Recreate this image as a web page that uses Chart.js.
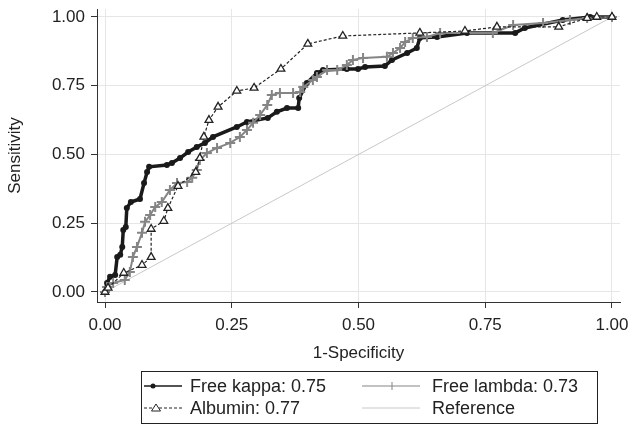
<!DOCTYPE html>
<html>
<head>
<meta charset="utf-8">
<script src="https://cdn.jsdelivr.net/npm/chart.js@4.4.1/dist/chart.umd.min.js"></script>
<style>
  body { margin: 0; background: #fff; }
  canvas { display: block; }
</style>
</head>
<body>
<canvas id="rocChart" width="631" height="433"></canvas>
<script>
// ROC curves (1-specificity, sensitivity)
const kappaX = [0, 0.004, 0.010, 0.020, 0.024, 0.030, 0.034, 0.036, 0.041, 0.043, 0.051, 0.069, 0.077, 0.083, 0.087, 0.122, 0.132, 0.148, 0.164, 0.181, 0.197, 0.213, 0.260, 0.280, 0.321, 0.339, 0.359, 0.381, 0.383, 0.398, 0.418, 0.430, 0.477, 0.499, 0.513, 0.552, 0.566, 0.596, 0.615, 0.621, 0.655, 0.714, 0.809, 0.828, 0.903, 0.957, 1];
const kappaY = [0, 0.033, 0.055, 0.062, 0.127, 0.135, 0.164, 0.225, 0.236, 0.305, 0.327, 0.338, 0.396, 0.436, 0.455, 0.462, 0.469, 0.487, 0.509, 0.527, 0.542, 0.564, 0.600, 0.618, 0.633, 0.655, 0.669, 0.669, 0.705, 0.760, 0.796, 0.807, 0.811, 0.811, 0.818, 0.822, 0.844, 0.869, 0.887, 0.924, 0.927, 0.942, 0.942, 0.960, 0.989, 1, 1];

const lambdaX = [0, 0.004, 0.016, 0.039, 0.049, 0.055, 0.063, 0.073, 0.079, 0.089, 0.099, 0.112, 0.128, 0.142, 0.162, 0.172, 0.181, 0.187, 0.201, 0.221, 0.247, 0.266, 0.280, 0.292, 0.306, 0.320, 0.329, 0.345, 0.371, 0.385, 0.391, 0.410, 0.418, 0.438, 0.458, 0.477, 0.489, 0.509, 0.556, 0.568, 0.582, 0.592, 0.607, 0.635, 0.661, 0.765, 0.805, 0.864, 0.917, 0.951, 1];
const lambdaY = [0, 0.018, 0.033, 0.044, 0.073, 0.127, 0.164, 0.215, 0.255, 0.280, 0.309, 0.327, 0.371, 0.396, 0.400, 0.415, 0.444, 0.480, 0.505, 0.524, 0.542, 0.564, 0.589, 0.615, 0.644, 0.680, 0.716, 0.724, 0.724, 0.727, 0.745, 0.771, 0.782, 0.807, 0.807, 0.825, 0.844, 0.851, 0.855, 0.869, 0.887, 0.909, 0.924, 0.927, 0.942, 0.942, 0.971, 0.978, 0.989, 0.996, 1];

const albuminX = [0, 0.006, 0.037, 0.073, 0.091, 0.091, 0.116, 0.124, 0.144, 0.179, 0.187, 0.195, 0.205, 0.223, 0.260, 0.294, 0.347, 0.400, 0.469, 0.621, 0.710, 0.773, 0.895, 0.951, 0.970, 1];
const albuminY = [0, 0.015, 0.069, 0.098, 0.127, 0.229, 0.258, 0.305, 0.385, 0.436, 0.487, 0.564, 0.625, 0.673, 0.731, 0.742, 0.811, 0.902, 0.931, 0.942, 0.949, 0.964, 0.964, 0.996, 1, 1];

const refX = [0, 1];
const refY = [0, 1];

const tickValues = [0, 0.25, 0.5, 0.75, 1];
const seriesLabels = ['Free kappa: 0.75', 'Free lambda: 0.73', 'Albumin: 0.77', 'Reference'];

const FONT = "'Liberation Sans', Arial, Helvetica, sans-serif";
const TEXT = '#222';

function toPoints(xs, ys) {
    return xs.map((x, i) => ({ x: x, y: ys[i] }));
}

// Legende encadree en bas (2 colonnes, comme Stata)
const boxLegend = {
    id: 'boxLegend',
    afterDraw(chart) {
        const ctx = chart.ctx;
        ctx.save();
        ctx.strokeStyle = '#222';
        ctx.lineWidth = 1;
        ctx.strokeRect(141.5, 371.5, 456, 52);

        const row1 = 386, row2 = 408;
        const lx0 = 144, lx1 = 182, rx0 = 362, rx1 = 420;

        // Free kappa
        ctx.strokeStyle = '#1a1a1a';
        ctx.lineWidth = 1.5;
        ctx.beginPath(); ctx.moveTo(lx0, row1); ctx.lineTo(lx1, row1); ctx.stroke();
        ctx.fillStyle = '#1a1a1a';
        ctx.beginPath(); ctx.arc(153, row1, 2.5, 0, Math.PI * 2); ctx.fill();

        // Free lambda
        ctx.strokeStyle = '#858585';
        ctx.lineWidth = 1;
        ctx.beginPath(); ctx.moveTo(rx0, row1); ctx.lineTo(rx1, row1); ctx.stroke();
        ctx.beginPath(); ctx.moveTo(392, row1 - 4); ctx.lineTo(392, row1 + 4); ctx.stroke();

        // Albumin
        ctx.strokeStyle = '#222';
        ctx.setLineDash([3, 2]);
        ctx.beginPath(); ctx.moveTo(lx0, row2); ctx.lineTo(lx1, row2); ctx.stroke();
        ctx.setLineDash([]);
        ctx.fillStyle = '#fff';
        ctx.beginPath();
        ctx.moveTo(156, row2 - 4); ctx.lineTo(160.5, row2 + 3); ctx.lineTo(151.5, row2 + 3); ctx.closePath();
        ctx.fill(); ctx.stroke();

        // Reference
        ctx.strokeStyle = '#c8c8c8';
        ctx.beginPath(); ctx.moveTo(rx0, row2); ctx.lineTo(rx1, row2); ctx.stroke();

        ctx.fillStyle = TEXT;
        ctx.font = '18px ' + FONT;
        ctx.textBaseline = 'middle';
        ctx.textAlign = 'left';
        ctx.fillText(seriesLabels[0], 190, row1 + 1);
        ctx.fillText(seriesLabels[1], 432, row1 + 1);
        ctx.fillText(seriesLabels[2], 190, row2 + 1);
        ctx.fillText(seriesLabels[3], 432, row2 + 1);
        ctx.restore();
    }
};

const ctx = document.getElementById('rocChart').getContext('2d');
new Chart(ctx, {
    type: 'scatter',
    data: {
        datasets: [
            {
                label: seriesLabels[0],
                data: toPoints(kappaX, kappaY),
                showLine: true,
                borderColor: '#1a1a1a',
                borderWidth: 3.5,
                pointStyle: 'circle',
                pointRadius: 3,
                pointBackgroundColor: '#1a1a1a',
                pointBorderWidth: 0,
                order: 2
            },
            {
                label: seriesLabels[1],
                data: toPoints(lambdaX, lambdaY),
                showLine: true,
                borderColor: '#858585',
                borderWidth: 2,
                pointStyle: 'cross',
                pointRadius: 5,
                pointBorderColor: '#858585',
                pointBorderWidth: 2,
                order: 1
            },
            {
                label: seriesLabels[2],
                data: toPoints(albuminX, albuminY),
                showLine: true,
                borderColor: '#222',
                borderWidth: 1.2,
                borderDash: [3, 2],
                pointStyle: 'triangle',
                pointRadius: 4.5,
                pointBackgroundColor: '#fff',
                pointBorderColor: '#222',
                pointBorderWidth: 1.3,
                order: 0
            },
            {
                label: seriesLabels[3],
                data: toPoints(refX, refY),
                showLine: true,
                borderColor: '#c8c8c8',
                borderWidth: 1,
                pointRadius: 0,
                order: 3
            }
        ]
    },
    options: {
        responsive: false,
        animation: false,
        events: [],
        layout: { padding: { top: 9, right: 11, bottom: 69, left: 0 } },
        scales: {
            x: {
                type: 'linear',
                min: -0.0158,
                max: 1.0158,
                afterBuildTicks: s => { s.ticks = tickValues.map(v => ({ value: v })); },
                afterFit: s => { s.height = 62; s.paddingLeft = 0; s.paddingRight = 0; },
                ticks: {
                    font: { family: FONT, size: 17 },
                    color: TEXT,
                    padding: 7,
                    maxRotation: 0,
                    autoSkip: false,
                    callback: v => v.toFixed(2)
                },
                grid: { color: '#e6e6e6', lineWidth: 1, tickLength: 6, tickColor: '#333', tickWidth: 1 },
                border: { color: '#333', width: 1 },
                title: { display: true, text: '1-Specificity', font: { family: FONT, size: 17 }, color: TEXT, padding: { top: 0, bottom: 0 } }
            },
            y: {
                type: 'linear',
                min: -0.0364,
                max: 1.029,
                afterBuildTicks: s => { s.ticks = tickValues.map(v => ({ value: v })); },
                afterFit: s => { s.width = 97; s.paddingTop = 0; s.paddingBottom = 0; },
                ticks: {
                    font: { family: FONT, size: 17 },
                    color: TEXT,
                    padding: 6,
                    autoSkip: false,
                    callback: v => v.toFixed(2)
                },
                grid: { color: '#e6e6e6', lineWidth: 1, tickLength: 6, tickColor: '#333', tickWidth: 1 },
                border: { color: '#333', width: 1 },
                title: { display: true, text: 'Sensitivity', font: { family: FONT, size: 17 }, color: TEXT, padding: { top: 5, bottom: 0 } }
            }
        },
        plugins: {
            legend: { display: false },
            tooltip: { enabled: false }
        }
    },
    plugins: [boxLegend]
});
</script>
</body>
</html>
